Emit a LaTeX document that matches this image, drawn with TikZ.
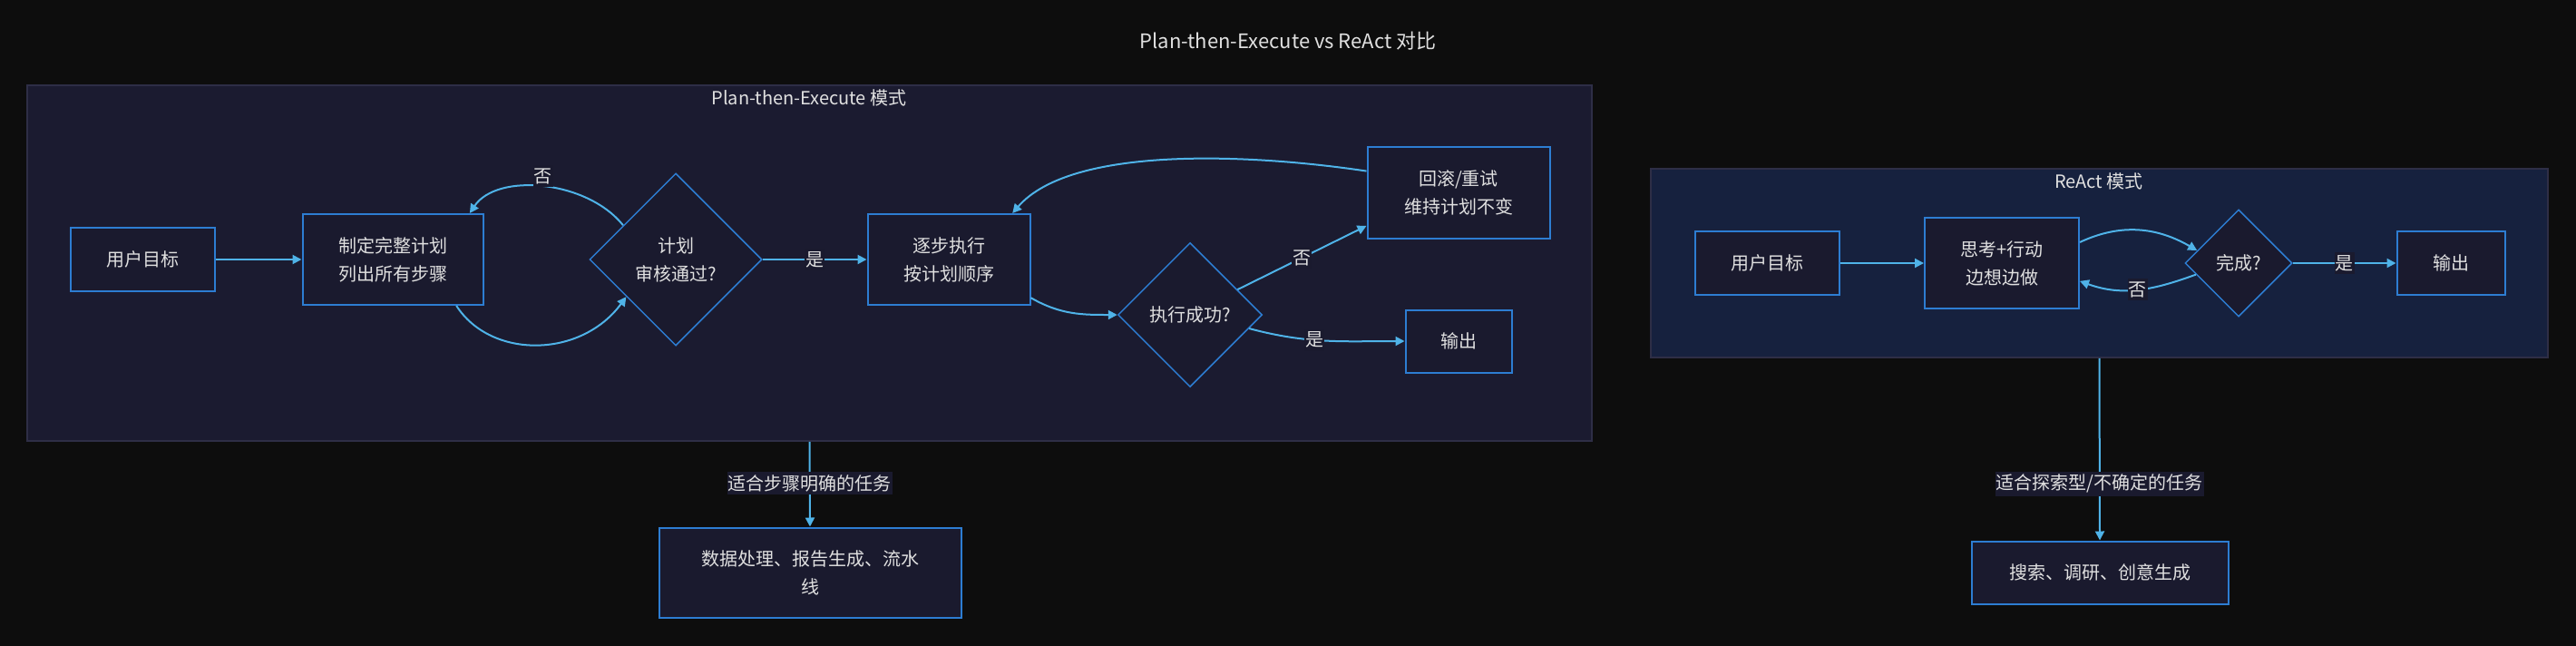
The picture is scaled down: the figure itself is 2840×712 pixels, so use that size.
\documentclass[tikz,border=0pt]{standalone}
\usepackage{fontspec}
\setmainfont{Noto Sans CJK SC}
\usetikzlibrary{arrows.meta,positioning,shapes.geometric}
\definecolor{bgdark}{RGB}{13,13,13}
\definecolor{planfill}{RGB}{27,27,48}
\definecolor{reactfill}{RGB}{22,33,62}
\definecolor{clusterline}{RGB}{46,46,70}
\definecolor{nodefill}{RGB}{26,26,46}
\definecolor{nodeline}{RGB}{45,125,210}
\definecolor{linkblue}{RGB}{79,179,232}
\definecolor{textgray}{RGB}{224,224,224}
\tikzset{
  stepbox/.style={draw=nodeline, line width=2pt, fill=nodefill, text=textgray,
    align=center, inner sep=0pt, font=\fontsize{20}{31}\selectfont},
  decision/.style={diamond, aspect=1, draw=nodeline, line width=1.5pt, fill=nodefill,
    text=textgray, align=center, inner sep=0pt, font=\fontsize{20}{31}\selectfont},
  cluster/.style={draw=clusterline, line width=1.5pt, inner sep=0pt},
  clustertitle/.style={text=textgray, inner sep=0pt, font=\fontsize{20}{24}\selectfont},
  flow/.style={-{Triangle[length=10pt,width=10pt]}, draw=linkblue, line width=2pt},
  edgelabel/.style={fill=nodefill, text=textgray, inner xsep=1pt, inner ysep=3pt,
    font=\fontsize{20}{24}\selectfont}
}

\begin{document}
\begin{tikzpicture}[x=1pt, y=1pt]
\fill[bgdark] (0,0) rectangle (2840,-712);
\useasboundingbox (0,0) rectangle (2840,-712);

\node[text=textgray, font=\fontsize{22}{26}\selectfont] (title) at (1420,-45) {Plan-then-Execute vs ReAct 对比};

% Plan-then-Execute
\node[cluster, fill=planfill, minimum width=1725pt, minimum height=392pt] (plancl) at (892.5,-290) {};
\node[clustertitle] (plantitle) at (892,-108) {Plan-then-Execute 模式};

\node[stepbox, minimum width=159pt, minimum height=70pt] (pgoal) at (157,-286) {用户目标};
\node[stepbox, minimum width=199pt, minimum height=100pt] (pplan) at (433,-286) {制定完整计划\\列出所有步骤};
\node[decision, minimum size=190pt] (preview) at (745,-286) {计划\\审核通过?};
\node[stepbox, minimum width=179pt, minimum height=100pt] (pexec) at (1046,-286) {逐步执行\\按计划顺序};
\node[decision, minimum size=159pt] (pcheck) at (1312,-347) {执行成功?};
\node[stepbox, minimum width=201pt, minimum height=101pt] (pretry) at (1608,-212) {回滚/重试\\维持计划不变};
\node[stepbox, minimum width=117pt, minimum height=69pt] (pout) at (1608,-376) {输出};
\node[stepbox, minimum width=333pt, minimum height=99pt] (pcase) at (893,-631) {数据处理、报告生成、流水\\线};

\draw[flow] (pgoal) -- (pplan);
\draw[flow] (pplan.-36) .. controls +(38,-59) and +(-50,-68) .. (preview.-143);
\draw[flow] (preview.147) .. controls +(-40,50) and +(30,45) .. node[edgelabel, pos=0.5, yshift=12pt] (pno1) {否} (pplan.31);
\draw[flow] (preview) -- node[edgelabel] (pyes1) {是} (pexec);
\draw[flow] (pexec.-25) to[out=-30, in=180] (pcheck.west);
\draw[flow] (pcheck.28) -- node[edgelabel] (pno2) {否} (pretry.200);
\draw[flow] (pcheck.-13) to[out=-15, in=180] node[edgelabel, pos=0.42] (pyes2) {是} (pout.west);
\draw[flow] (pretry.167) .. controls +(-127,19) and +(65,75) .. (pexec.36);
\draw[flow] (plancl.south) -- node[edgelabel, pos=0.49] (pfit) {适合步骤明确的任务} (pcase.north);

% ReAct
\node[cluster, fill=reactfill, minimum width=989pt, minimum height=208pt] (reactcl) at (2314.5,-290) {};
\node[clustertitle] (reacttitle) at (2314,-200) {ReAct 模式};

\node[stepbox, minimum width=159pt, minimum height=70pt] (rgoal) at (1948,-290) {用户目标};
\node[stepbox, minimum width=170pt, minimum height=100pt] (rthink) at (2207,-290) {思考+行动\\边想边做};
\node[decision, minimum size=118pt] (rdone) at (2468,-290) {完成?};
\node[stepbox, minimum width=119pt, minimum height=70pt] (rout) at (2702,-290) {输出};
\node[stepbox, minimum width=283pt, minimum height=69pt] (rcase) at (2315,-631) {搜索、调研、创意生成};

\draw[flow] (rgoal) -- (rthink);
\draw[flow] (rthink.15) to[out=25, in=150] (rdone.163);
\draw[flow] (rdone.195) to[out=200, in=-20] node[edgelabel] (rno) {否} (rthink.-13);
\draw[flow] (rdone) -- node[edgelabel] (ryes) {是} (rout);
\draw[flow] (reactcl.south) -- node[edgelabel, pos=0.69] (rfit) {适合探索型/不确定的任务} (rcase.north);
\end{tikzpicture}
\end{document}
